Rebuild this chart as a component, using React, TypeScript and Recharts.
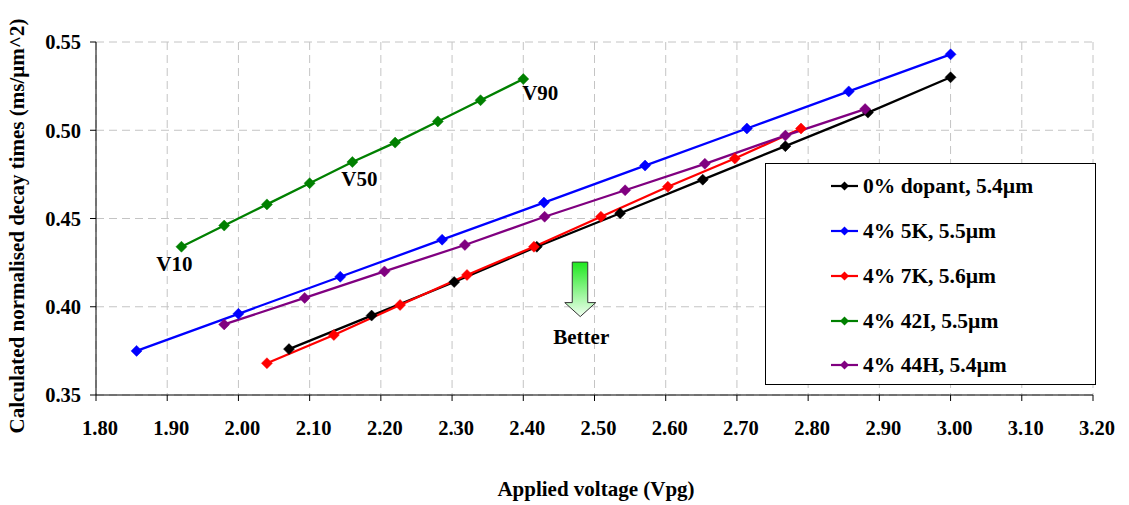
import React from 'react';
import { LineChart, Line, XAxis, YAxis, CartesianGrid, Legend, ReferenceDot } from 'recharts';

const xTicks = [1.8, 1.9, 2.0, 2.1, 2.2, 2.3, 2.4, 2.5, 2.6, 2.7, 2.8, 2.9, 3.0, 3.1, 3.2];
const yTicks = [0.35, 0.4, 0.45, 0.5, 0.55];

const dopant0X = [2.071, 2.187, 2.303, 2.419, 2.536, 2.652, 2.768, 2.884, 3.0];
const dopant0Y = [0.376, 0.395, 0.414, 0.434, 0.453, 0.472, 0.491, 0.51, 0.53];
const k5X = [1.857, 2.0, 2.143, 2.286, 2.429, 2.571, 2.714, 2.857, 3.0];
const k5Y = [0.375, 0.396, 0.417, 0.438, 0.459, 0.48, 0.501, 0.522, 0.543];
const k7X = [2.04, 2.134, 2.227, 2.321, 2.415, 2.509, 2.603, 2.697, 2.79];
const k7Y = [0.368, 0.384, 0.401, 0.418, 0.434, 0.451, 0.468, 0.484, 0.501];
const i42X = [1.92, 1.98, 2.04, 2.1, 2.16, 2.22, 2.28, 2.34, 2.4];
const i42Y = [0.434, 0.446, 0.458, 0.47, 0.482, 0.493, 0.505, 0.517, 0.529];
const h44X = [1.98, 2.093, 2.205, 2.318, 2.43, 2.543, 2.655, 2.768, 2.88];
const h44Y = [0.39, 0.405, 0.42, 0.435, 0.451, 0.466, 0.481, 0.497, 0.512];

const i42Labels = ['V10', '', '', '', 'V50', '', '', '', 'V90'];
const arrowText = 'Better';

const FONT = '"Liberation Serif", "Times New Roman", serif';

const toPoints = (xs: number[], ys: number[]) => xs.map((x, i) => ({ x, y: ys[i] }));

const series = [
  { name: '0% dopant, 5.4µm', color: '#000000', data: toPoints(dopant0X, dopant0Y) },
  { name: '4% 5K, 5.5µm', color: '#0000ff', data: toPoints(k5X, k5Y) },
  { name: '4% 7K, 5.6µm', color: '#ff0000', data: toPoints(k7X, k7Y) },
  { name: '4% 42I, 5.5µm', color: '#008000', data: toPoints(i42X, i42Y) },
  { name: '4% 44H, 5.4µm', color: '#800080', data: toPoints(h44X, h44Y) },
];

const diamond = (cx: number, cy: number, r: number) =>
  `M${cx},${cy - r}L${cx + r},${cy}L${cx},${cy + r}L${cx - r},${cy}Z`;

const makeDot = (color: string, name: string) => (p: any) => (
  <path key={`${name}-${p.index}`} d={diamond(p.cx, p.cy, 5.5)} fill={color} stroke={color} strokeWidth={0.5} />
);

const labelOffsets: Record<string, [number, number]> = {
  V10: [-7, 17],
  V50: [7, 17],
  V90: [17, 14],
};

const GreenLabel = (p: any) => {
  const t = i42Labels[p.index];
  if (!t) return null;
  const [dx, dy] = labelOffsets[t];
  return (
    <text
      x={p.x + dx}
      y={p.y + dy}
      textAnchor="middle"
      dominantBaseline="central"
      fontFamily={FONT}
      fontWeight="bold"
      fontSize={21}
      fill="#000"
    >
      {t}
    </text>
  );
};

const ArrowShape = (p: any) => {
  const cx = p.cx;
  const cy = p.cy;
  const d = `M${cx - 8},${cy - 27}L${cx + 7.5},${cy - 27}L${cx + 7.5},${cy + 13.5}L${cx + 15.5},${cy + 13.5}L${cx},${cy + 27.5}L${cx - 15.5},${cy + 13.5}L${cx - 8},${cy + 13.5}Z`;
  return (
    <g>
      <defs>
        <linearGradient id="arrowGrad" x1="0" y1="0" x2="0" y2="1">
          <stop offset="0%" stopColor="#1ee81e" />
          <stop offset="100%" stopColor="#f2fff2" />
        </linearGradient>
      </defs>
      <path d={d} fill="url(#arrowGrad)" stroke="#333" strokeWidth={1} />
      <text
        x={cx + 1}
        y={cy + 48}
        textAnchor="middle"
        dominantBaseline="central"
        fontFamily={FONT}
        fontWeight="bold"
        fontSize={21}
        fill="#000"
      >
        {arrowText}
      </text>
    </g>
  );
};

const LegendBox = () => {
  const w = 331;
  const h = 222;
  const rows = [23, 68, 113, 158, 202];
  return (
    <svg width={w} height={h} style={{ display: 'block' }}>
      <rect x={0.5} y={0.5} width={w - 1} height={h - 1} fill="#fff" stroke="#000" strokeWidth={1} />
      {series.map((s, i) => (
        <g key={s.name}>
          <line x1={66} x2={93} y1={rows[i]} y2={rows[i]} stroke={s.color} strokeWidth={2.2} />
          <path d={diamond(79.5, rows[i], 4.5)} fill={s.color} />
          <text
            x={98}
            y={rows[i]}
            dominantBaseline="central"
            fontFamily={FONT}
            fontWeight="bold"
            fontSize={21.5}
            fill="#000"
          >
            {s.name}
          </text>
        </g>
      ))}
    </svg>
  );
};

const XTick = (p: any) => (
  <text
    x={p.x + 4}
    y={p.y}
    dy="0.71em"
    textAnchor="middle"
    fontFamily={FONT}
    fontWeight="bold"
    fontSize={20.5}
    fill="#000"
  >
    {Number(p.payload.value).toFixed(2)}
  </text>
);

const YTick = (p: any) => (
  <text
    x={p.x}
    y={p.y}
    dy="0.355em"
    textAnchor="end"
    fontFamily={FONT}
    fontWeight="bold"
    fontSize={20.5}
    fill="#000"
  >
    {Number(p.payload.value).toFixed(2)}
  </text>
);

export default function App() {
  return (
    <div style={{ position: 'absolute', left: 0, top: 0, width: 1129, height: 505, background: '#fff' }}>
      <LineChart width={1129} height={505} margin={{ top: 42, right: 36, left: 0, bottom: 0 }}>
        <CartesianGrid stroke="#c4c4c4" strokeDasharray="8 5" strokeWidth={1} />
        <XAxis
          type="number"
          dataKey="x"
          domain={[1.8, 3.2]}
          ticks={xTicks}
          interval={0}
          height={110}
          tickSize={6}
          tickMargin={19}
          stroke="#000"
          tick={<XTick />}
          allowDuplicatedCategory={false}
        />
        <YAxis
          type="number"
          dataKey="y"
          domain={[0.35, 0.55]}
          ticks={yTicks}
          interval={0}
          width={96}
          tickSize={6}
          tickMargin={9}
          stroke="#000"
          tick={<YTick />}
        />
        {series.map((s, i) => (
          <Line
            key={s.name}
            name={s.name}
            data={s.data}
            dataKey="y"
            type="linear"
            stroke={s.color}
            strokeWidth={2.3}
            dot={makeDot(s.color, s.name)}
            activeDot={false}
            isAnimationActive={false}
            label={i === 3 ? <GreenLabel /> : undefined}
          />
        ))}
        <ReferenceDot x={2.48} y={0.41} r={0} shape={<ArrowShape />} ifOverflow="visible" />
        <Legend
          layout="vertical"
          align="center"
          verticalAlign="middle"
          content={<LegendBox />}
          wrapperStyle={{ position: 'absolute', left: 765, top: 163, width: 331, height: 222 }}
        />
        <text
          x={596}
          y={489}
          textAnchor="middle"
          dominantBaseline="central"
          fontFamily={FONT}
          fontWeight="bold"
          fontSize={21}
          fill="#000"
        >
          Applied voltage (Vpg)
        </text>
        <text
          x={17}
          y={226}
          transform="rotate(-90 17 226)"
          textAnchor="middle"
          dominantBaseline="central"
          fontFamily={FONT}
          fontWeight="bold"
          fontSize={21}
          fill="#000"
        >
          Calculated normalised decay times (ms/µm^2)
        </text>
      </LineChart>
    </div>
  );
}
